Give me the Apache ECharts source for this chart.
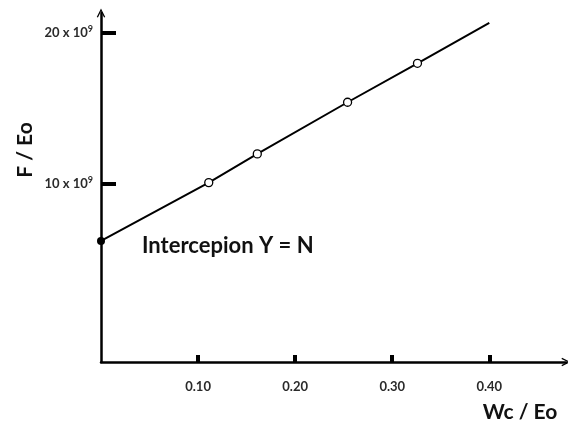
<!DOCTYPE html>
<html>
<head>
<meta charset="utf-8">
<script src="https://cdn.jsdelivr.net/npm/echarts@6/dist/echarts.min.js"></script>
<style>html,body{margin:0;padding:0;background:#fff;}#c{width:568px;height:426px;}</style>
</head>
<body>
<div id="c"></div>
<script>
// Data (y in units of 10^9)
const xValues = [0, 0.111, 0.161, 0.254, 0.326, 0.400];
const yValues = [6.23, 10.09, 11.99, 15.41, 17.99, 20.66];
const pointKinds = ['intercept', 'open', 'open', 'open', 'open', 'none'];
const xTicks = [0.1, 0.2, 0.3, 0.4];
const xTickLabels = ['0.10', '0.20', '0.30', '0.40'];
const yTicks = [10, 20];
const yTickLabels = ['10 x 10{s|9}', '20 x 10{s|9}'];
const xTitle = 'Wc / Eo';
const yTitle = 'F / Eo';
const note = 'Intercepion Y = N';

const FONT = 'Lato, "Open Sans", sans-serif';
const chev = 'path://M0,10 L5,0 L10,10 L8.6,10.6 L5,3.2 L1.4,10.6 Z';

const seriesData = xValues.map((x, i) => {
  const k = pointKinds[i];
  const d = { value: [x, yValues[i]] };
  if (k === 'intercept') {
    d.symbol = 'circle'; d.symbolSize = 8;
    d.itemStyle = { color: '#000', borderColor: '#000', borderWidth: 0 };
  } else if (k === 'open') {
    d.symbol = 'circle'; d.symbolSize = 8;
    d.itemStyle = { color: '#fff', borderColor: '#000', borderWidth: 1.3 };
  } else {
    d.symbol = 'none';
  }
  return d;
});

const chart = echarts.init(document.getElementById('c'), null, { renderer: 'canvas' });
chart.setOption({
  animation: false,
  backgroundColor: '#fff',
  grid: { left: 101, right: 2, top: 13, bottom: 64 },
  xAxis: {
    type: 'value', min: 0, max: 0.479,
    splitLine: { show: false },
    axisLine: { show: true, onZero: false, lineStyle: { color: '#000', width: 2.5 },
      symbol: ['none', chev], symbolSize: [10, 9] },
    axisTick: { show: true, inside: true, length: 7, customValues: xTicks,
      lineStyle: { color: '#000', width: 4 } },
    axisLabel: { show: true, customValues: xTicks, margin: 18,
      formatter: v => xTickLabels[xTicks.findIndex(t => Math.abs(t - v) < 1e-6)],
      color: '#2a2a2a', fontFamily: FONT, fontWeight: 'bold', fontSize: 13 }
  },
  yAxis: {
    type: 'value', min: -1.79, max: 21.32,
    splitLine: { show: false },
    axisLine: { show: true, onZero: false, lineStyle: { color: '#000', width: 2.5 },
      symbol: ['none', chev], symbolSize: [10, 9] },
    axisTick: { show: true, inside: true, length: 15, customValues: yTicks,
      lineStyle: { color: '#000', width: 4 } },
    axisLabel: { show: true, customValues: yTicks, margin: 8,
      formatter: v => yTickLabels[yTicks.findIndex(t => Math.abs(t - v) < 1e-6)],
      color: '#2a2a2a', fontFamily: FONT, fontWeight: 'bold', fontSize: 13,
      rich: { s: { fontSize: 9, verticalAlign: 'top', padding: [0, 0, 7, 0], color: '#2a2a2a', fontFamily: FONT } } }
  },
  series: [{
    type: 'line',
    data: seriesData,
    lineStyle: { color: '#000', width: 2 },
    z: 5
  }],
  graphic: [
    { type: 'text', x: 142, y: 246,
      style: { text: note, font: 'bold 22px ' + FONT, fill: '#111', verticalAlign: 'middle' } },
    { type: 'text', x: 520, y: 412,
      style: { text: xTitle, font: 'bold 21px ' + FONT, fill: '#111', align: 'center', verticalAlign: 'middle' } },
    { type: 'text', x: 25, y: 150, rotation: Math.PI / 2,
      style: { text: yTitle, font: 'bold 21px ' + FONT, fill: '#111', align: 'center', verticalAlign: 'middle' } }
  ]
});
</script>
</body>
</html>
